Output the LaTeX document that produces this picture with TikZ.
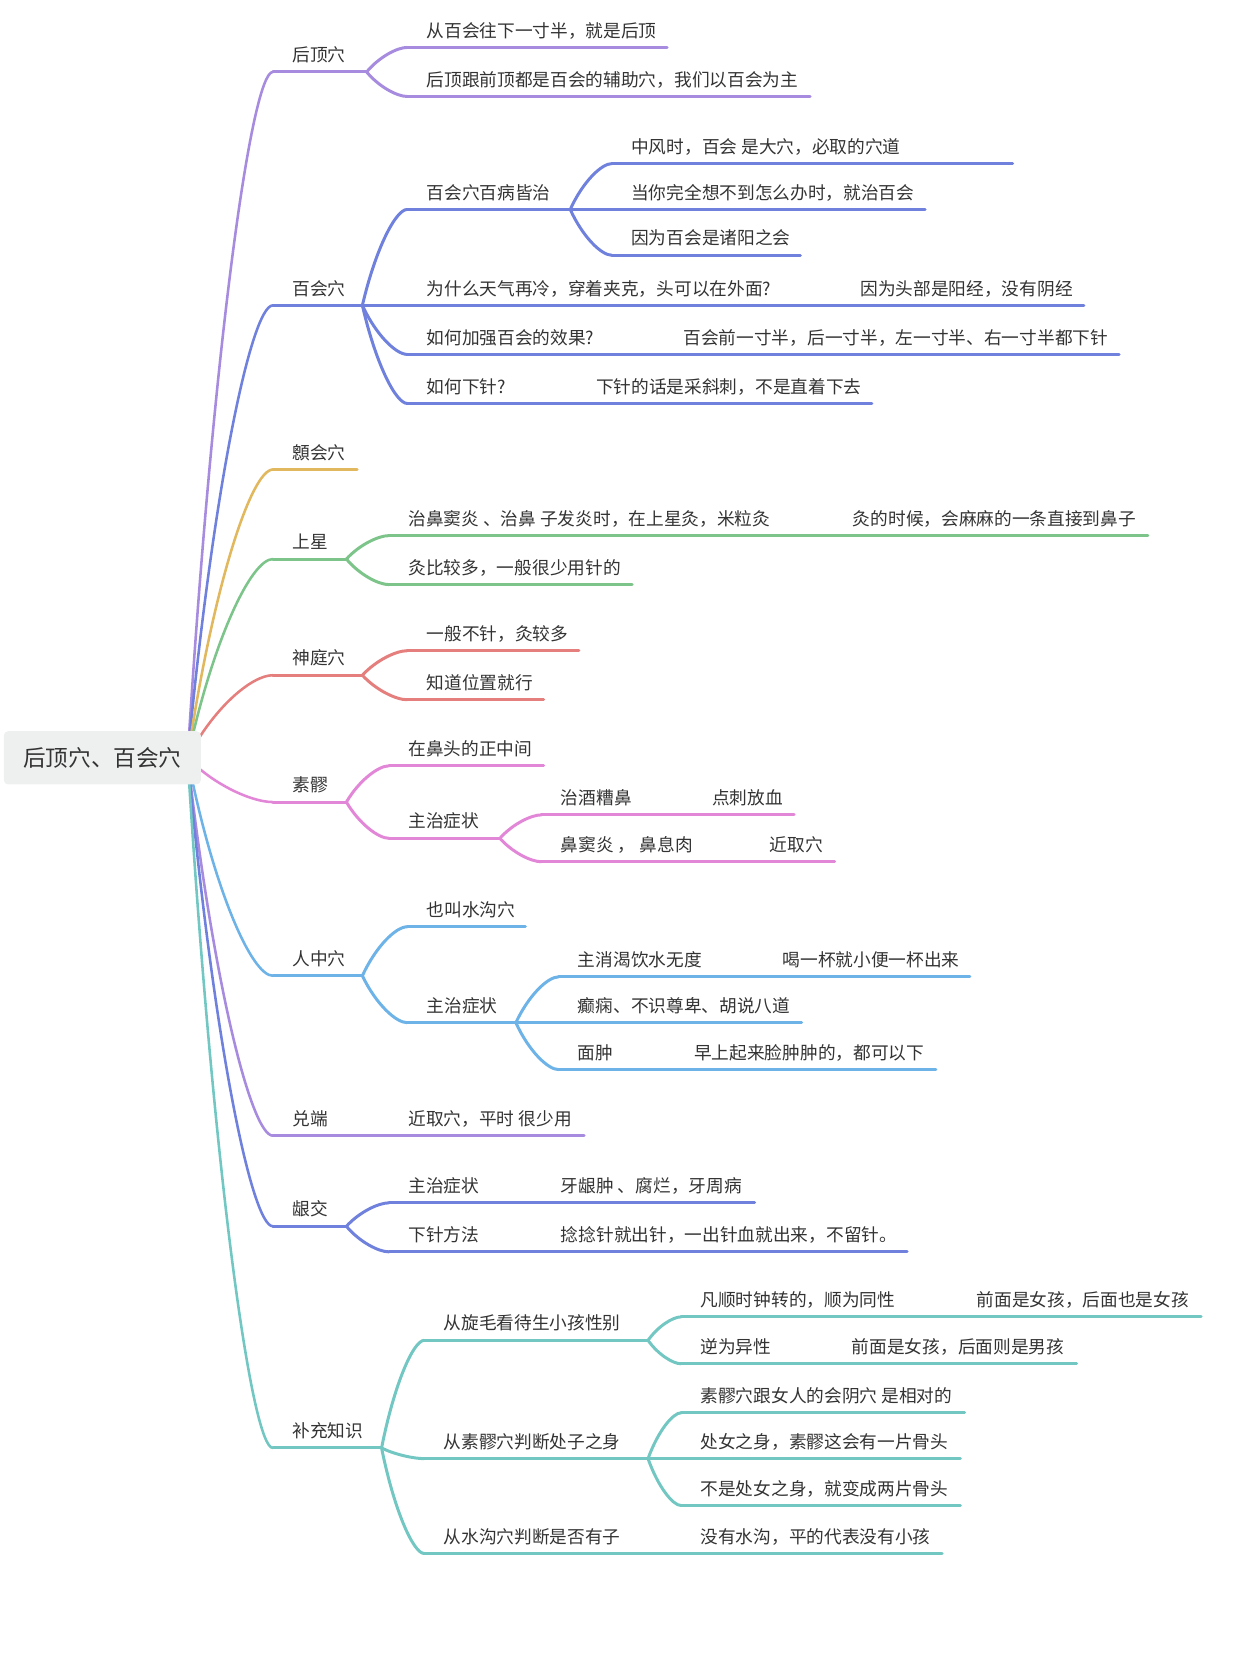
\documentclass[tikz,border=0pt]{standalone}
\usepackage{fontspec}
\setmainfont{Noto Sans CJK SC}
\usetikzlibrary{calc}
\definecolor{cpurple}{HTML}{A68BDF}
\definecolor{cblue}{HTML}{6F81DC}
\definecolor{cyellow}{HTML}{E1B85E}
\definecolor{cgreen}{HTML}{7CC48A}
\definecolor{cred}{HTML}{E47F7E}
\definecolor{cpink}{HTML}{E287D7}
\definecolor{csky}{HTML}{6DB3E7}
\definecolor{cteal}{HTML}{72C7C3}
\definecolor{rootfill}{HTML}{EEF0EF}
\definecolor{txt}{HTML}{333333}
\tikzset{
	topic/.style={anchor=west, inner sep=0pt, text=txt, font=\fontsize{12.45}{15}\selectfont, text height=0.86em, text depth=0.14em},
	rootbox/.style={fill=rootfill, rounded corners=3pt, text=txt, font=\fontsize{15.9}{19}\selectfont, minimum width=138.6pt, minimum height=37.5pt, inner sep=0pt},
	ul/.style={line width=2.1pt, line cap=round},
	mainline/.style={line width=1.8pt, line cap=round},
	subline/.style={line width=2.1pt, line cap=round},
}
% topic: name, colour, x, y, end of underline, text
\newcommand{\mtopic}[6]{%
	\node[topic] (#1) at (#3,{#4+2}) {#6};
	\coordinate (#1-l) at ({#3-18},{#4+16.5});
	\coordinate (#1-r) at (#5,{#4+16.5});
	\draw[ul,#2] (#1-l) -- (#1-r);
}
% curved link between two points
\newcommand{\mlink}[4]{%
	\draw[#1,#2] let \p1=(#3), \p2=(#4) in (\p1) .. controls ({\x1+0.3*(\x2-\x1)},{\y1+0.6*(\y2-\y1)}) and ({\x2-0.25*(\x2-\x1)},\y2) .. (\p2);
}
\begin{document}
\begin{tikzpicture}[x=0.75pt,y=-0.75pt]
	\useasboundingbox (0,0) rectangle (1160,1564);
	\coordinate (hub) at (176,711);
	% level 1
	\mtopic{hd}{cpurple}{274}{51}{344}{后顶穴}
	\mtopic{bh}{cblue}{274}{270}{340}{百会穴}
	\mtopic{xh}{cyellow}{274}{424}{335}{顖会穴}
	\mtopic{sx}{cgreen}{274}{508}{325}{上星}
	\mtopic{st}{cred}{274}{617}{340}{神庭穴}
	\mtopic{sl}{cpink}{274}{736}{325}{素髎}
	\mtopic{rz}{csky}{274}{899}{340}{人中穴}
	\mtopic{dd}{cpurple}{274}{1049}{319}{兑端}
	\mtopic{yj}{cblue}{274}{1134}{325}{龈交}
	\mtopic{bc}{cteal}{274}{1342}{358}{补充知识}
	\foreach \nm/\col in {hd/cpurple,bh/cblue,xh/cyellow,sx/cgreen,st/cred,sl/cpink,rz/csky,dd/cpurple,yj/cblue,bc/cteal}
		\mlink{mainline}{\col}{hub}{\nm-l};
	% 后顶穴
	\mtopic{hd1}{cpurple}{400}{28}{626}{从百会往下一寸半，就是后顶}
	\mtopic{hd2}{cpurple}{400}{74}{760}{后顶跟前顶都是百会的辅助穴，我们以百会为主}
	\mlink{subline}{cpurple}{hd-r}{hd1-l}
	\mlink{subline}{cpurple}{hd-r}{hd2-l}
	% 百会穴
	\mtopic{bh1}{cblue}{400}{180}{535}{百会穴百病皆治}
	\mtopic{bh11}{cblue}{592}{137}{950}{中风时，百会 是大穴，必取的穴道}
	\mtopic{bh12}{cblue}{592}{180}{868}{当你完全想不到怎么办时，就治百会}
	\mtopic{bh13}{cblue}{592}{223}{751}{因为百会是诸阳之会}
	\mtopic{bh2}{cblue}{400}{270}{734}{为什么天气再冷，穿着夹克，头可以在外面?}
	\mtopic{bh21}{cblue}{807}{270}{1017}{因为头部是阳经，没有阴经}
	\mtopic{bh3}{cblue}{400}{316}{568}{如何加强百会的效果?}
	\mtopic{bh31}{cblue}{641}{316}{1050}{百会前一寸半，后一寸半，左一寸半、右一寸半都下针}
	\mtopic{bh4}{cblue}{400}{362}{485}{如何下针?}
	\mtopic{bh41}{cblue}{559}{362}{818}{下针的话是采斜刺，不是直着下去}
	\foreach \nm in {bh1,bh2,bh3,bh4}
		\mlink{subline}{cblue}{bh-r}{\nm-l};
	\foreach \nm in {bh11,bh12,bh13}
		\mlink{subline}{cblue}{bh1-r}{\nm-l};
	\mlink{subline}{cblue}{bh2-r}{bh21-l}
	\mlink{subline}{cblue}{bh3-r}{bh31-l}
	\mlink{subline}{cblue}{bh4-r}{bh41-l}
	% 上星
	\mtopic{sx1}{cgreen}{383}{486}{738}{治鼻窦炎 、治鼻 子发炎时，在上星灸，米粒灸}
	\mtopic{sx11}{cgreen}{800}{486}{1077}{灸的时候，会麻麻的一条直接到鼻子}
	\mtopic{sx2}{cgreen}{383}{532}{593}{灸比较多，一般很少用针的}
	\mlink{subline}{cgreen}{sx-r}{sx1-l}
	\mlink{subline}{cgreen}{sx-r}{sx2-l}
	\mlink{subline}{cgreen}{sx1-r}{sx11-l}
	% 神庭穴
	\mtopic{st1}{cred}{400}{594}{543}{一般不针，灸较多}
	\mtopic{st2}{cred}{400}{640}{510}{知道位置就行}
	\mlink{subline}{cred}{st-r}{st1-l}
	\mlink{subline}{cred}{st-r}{st2-l}
	% 素髎
	\mtopic{sl1}{cpink}{383}{702}{510}{在鼻头的正中间}
	\mtopic{sl2}{cpink}{383}{770}{469}{主治症状}
	\mtopic{sl21}{cpink}{526}{748}{621}{治酒糟鼻}
	\mtopic{sl211}{cpink}{668}{748}{745}{点刺放血}
	\mtopic{sl22}{cpink}{526}{792}{662}{鼻窦炎 ， 鼻息肉}
	\mtopic{sl221}{cpink}{722}{792}{783}{近取穴}
	\mlink{subline}{cpink}{sl-r}{sl1-l}
	\mlink{subline}{cpink}{sl-r}{sl2-l}
	\mlink{subline}{cpink}{sl2-r}{sl21-l}
	\mlink{subline}{cpink}{sl2-r}{sl22-l}
	\mlink{subline}{cpink}{sl21-r}{sl211-l}
	\mlink{subline}{cpink}{sl22-r}{sl221-l}
	% 人中穴
	\mtopic{rz1}{csky}{400}{853}{493}{也叫水沟穴}
	\mtopic{rz2}{csky}{400}{943}{484}{主治症状}
	\mtopic{rz21}{csky}{542}{900}{670}{主消渴饮水无度}
	\mtopic{rz211}{csky}{734}{900}{910}{喝一杯就小便一杯出来}
	\mtopic{rz22}{csky}{542}{943}{752}{癫痫、不识尊卑、胡说八道}
	\mtopic{rz23}{csky}{542}{987}{587}{面肿}
	\mtopic{rz231}{csky}{651}{987}{878}{早上起来脸肿肿的，都可以下}
	\mlink{subline}{csky}{rz-r}{rz1-l}
	\mlink{subline}{csky}{rz-r}{rz2-l}
	\foreach \nm in {rz21,rz22,rz23}
		\mlink{subline}{csky}{rz2-r}{\nm-l};
	\mlink{subline}{csky}{rz21-r}{rz211-l}
	\mlink{subline}{csky}{rz23-r}{rz231-l}
	% 兑端
	\mtopic{dd1}{cpurple}{383}{1049}{548}{近取穴，平时 很少用}
	\mlink{subline}{cpurple}{dd-r}{dd1-l}
	% 龈交
	\mtopic{yj1}{cblue}{383}{1112}{461}{主治症状}
	\mtopic{yj11}{cblue}{526}{1112}{708}{牙龈肿 、腐烂，牙周病}
	\mtopic{yj2}{cblue}{383}{1158}{461}{下针方法}
	\mtopic{yj21}{cblue}{526}{1158}{851}{捻捻针就出针，一出针血就出来，不留针。}
	\mlink{subline}{cblue}{yj-r}{yj1-l}
	\mlink{subline}{cblue}{yj-r}{yj2-l}
	\mlink{subline}{cblue}{yj1-r}{yj11-l}
	\mlink{subline}{cblue}{yj2-r}{yj21-l}
	% 补充知识
	\mtopic{bc1}{cteal}{416}{1241}{608}{从旋毛看待生小孩性别}
	\mtopic{bc11}{cteal}{657}{1219}{852}{凡顺时钟转的，顺为同性}
	\mtopic{bc111}{cteal}{916}{1219}{1127}{前面是女孩，后面也是女孩}
	\mtopic{bc12}{cteal}{657}{1263}{735}{逆为异性}
	\mtopic{bc121}{cteal}{799}{1263}{1010}{前面是女孩，后面则是男孩}
	\mtopic{bc2}{cteal}{416}{1352}{608}{从素髎穴判断处子之身}
	\mtopic{bc21}{cteal}{657}{1309}{905}{素髎穴跟女人的会阴穴 是相对的}
	\mtopic{bc22}{cteal}{657}{1352}{901}{处女之身，素髎这会有一片骨头}
	\mtopic{bc23}{cteal}{657}{1396}{901}{不是处女之身，就变成两片骨头}
	\mtopic{bc3}{cteal}{416}{1441}{594}{从水沟穴判断是否有子}
	\mtopic{bc31}{cteal}{657}{1441}{884}{没有水沟，平的代表没有小孩}
	\foreach \nm in {bc1,bc2,bc3}
		\mlink{subline}{cteal}{bc-r}{\nm-l};
	\mlink{subline}{cteal}{bc1-r}{bc11-l}
	\mlink{subline}{cteal}{bc1-r}{bc12-l}
	\mlink{subline}{cteal}{bc11-r}{bc111-l}
	\mlink{subline}{cteal}{bc12-r}{bc121-l}
	\foreach \nm in {bc21,bc22,bc23}
		\mlink{subline}{cteal}{bc2-r}{\nm-l};
	\mlink{subline}{cteal}{bc3-r}{bc31-l}
	% root
	\node[rootbox] (root) at (96,711) {后顶穴、百会穴};
\end{tikzpicture}
\end{document}
